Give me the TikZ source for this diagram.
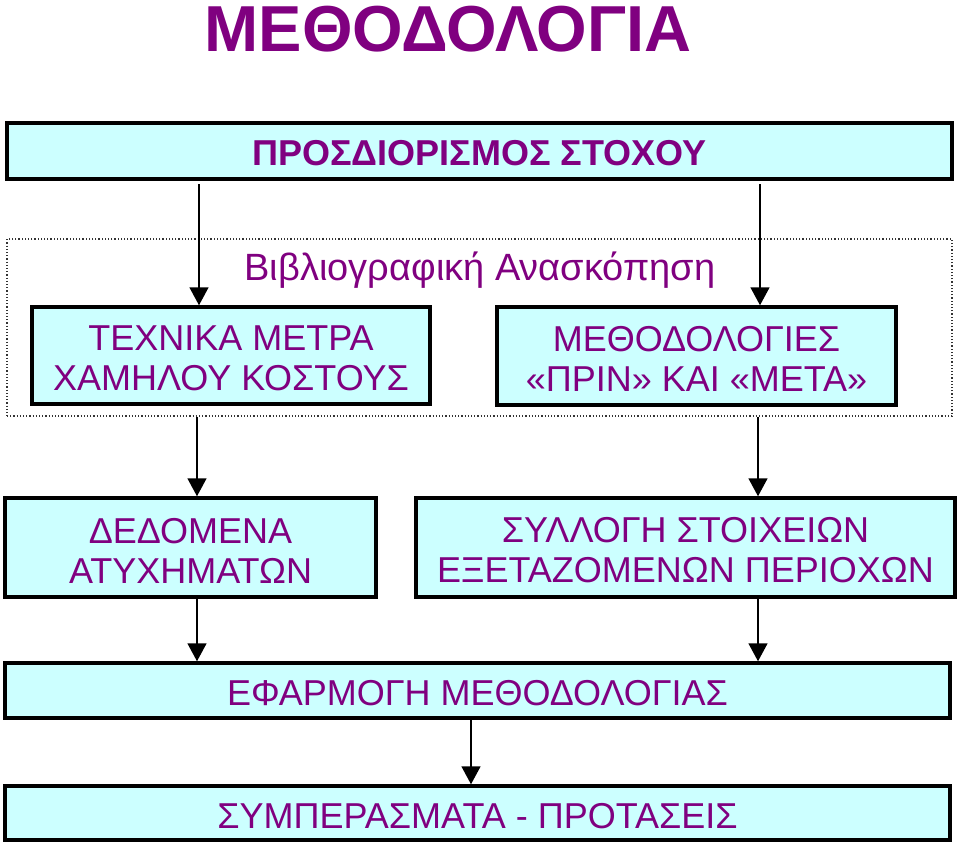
\documentclass[tikz,border=0pt]{standalone}
\usepackage{fontspec}
\setmainfont{Liberation Sans}
\usetikzlibrary{arrows.meta}
\definecolor{boxfill}{HTML}{CCFFFF}
\definecolor{txt}{HTML}{800080}
\begin{document}
\begin{tikzpicture}[x=1pt,y=-1pt,
  box/.style={draw=black,line width=3.5pt,fill=boxfill,rectangle,inner sep=0pt},
  boxtext/.style={text=txt,align=center,inner sep=0pt,font=\fontsize{36}{40}\selectfont},
  arr/.style={line width=1.6pt,-{Triangle[width=19pt,length=18pt]}},
  frame/.style={draw=black!80,line width=1.2pt,dotted,rectangle,inner sep=0pt}]
\useasboundingbox[fill=white] (0,0) rectangle (960,844);
\node[text=txt,font=\fontsize{65}{65}\selectfont\bfseries] (title) at (448,29) {ΜΕΘΟΔΟΛΟΓΙΑ};
\node[frame,minimum width=945pt,minimum height=177pt] (frm) at (479.5,327.5) {};
\node[box,minimum width=945pt,minimum height=56pt] (b1) at (479.5,151) {};
\node[boxtext,font=\fontsize{36}{40}\selectfont\bfseries] (b1t) at ([yshift=-2pt]b1.center) {ΠΡΟΣΔΙΟΡΙΣΜΟΣ ΣΤΟΧΟΥ};
\node[text=txt,font=\fontsize{38}{40}\selectfont] (lit) at (480,270) {Βιβλιογραφική Ανασκόπηση};
\node[box,minimum width=398pt,minimum height=97pt] (L) at (231,355.5) {};
\node[boxtext] (Lt) at ([yshift=-3pt]L.center) {ΤΕΧΝΙΚΑ ΜΕΤΡΑ\\ΧΑΜΗΛΟΥ ΚΟΣΤΟΥΣ};
\node[box,minimum width=399pt,minimum height=98pt] (R) at (696.5,356) {};
\node[boxtext] (Rt) at ([yshift=-3pt]R.center) {ΜΕΘΟΔΟΛΟΓΙΕΣ\\«ΠΡΙΝ» ΚΑΙ «ΜΕΤΑ»};
\node[box,minimum width=371pt,minimum height=99pt] (D) at (190.5,547.5) {};
\node[boxtext] (Dt) at ([yshift=-3pt]D.center) {ΔΕΔΟΜΕΝΑ\\ΑΤΥΧΗΜΑΤΩΝ};
\node[box,minimum width=539pt,minimum height=99pt] (S) at (685.5,547.5) {};
\node[boxtext] (St) at ([yshift=-3pt]S.center) {ΣΥΛΛΟΓΗ ΣΤΟΙΧΕΙΩΝ\\ΕΞΕΤΑΖΟΜΕΝΩΝ ΠΕΡΙΟΧΩΝ};
\node[box,minimum width=945pt,minimum height=55pt] (E) at (477.5,690.5) {};
\node[boxtext] (Et) at ([yshift=-3pt]E.center) {ΕΦΑΡΜΟΓΗ ΜΕΘΟΔΟΛΟΓΙΑΣ};
\node[box,minimum width=945pt,minimum height=54pt] (C) at (477.5,813) {};
\node[boxtext] (Ct) at ([yshift=-3pt]C.center) {ΣΥΜΠΕΡΑΣΜΑΤΑ - ΠΡΟΤΑΣΕΙΣ};
\coordinate (a1) at (199,184);
\coordinate (a2) at (760,184);
\draw[arr] (a1) -- (a1 |- L.north);
\draw[arr] (a2) -- (a2 |- R.north);
\coordinate (a3) at (197,0);
\coordinate (a4) at (758,0);
\draw[arr] (a3 |- frm.south) -- (a3 |- D.north);
\draw[arr] (a4 |- frm.south) -- (a4 |- S.north);
\draw[arr] (a3 |- D.south) -- (a3 |- E.north);
\draw[arr] (a4 |- S.south) -- (a4 |- E.north);
\coordinate (a5) at (471,0);
\draw[arr] (a5 |- E.south) -- (a5 |- C.north);
\end{tikzpicture}
\end{document}
